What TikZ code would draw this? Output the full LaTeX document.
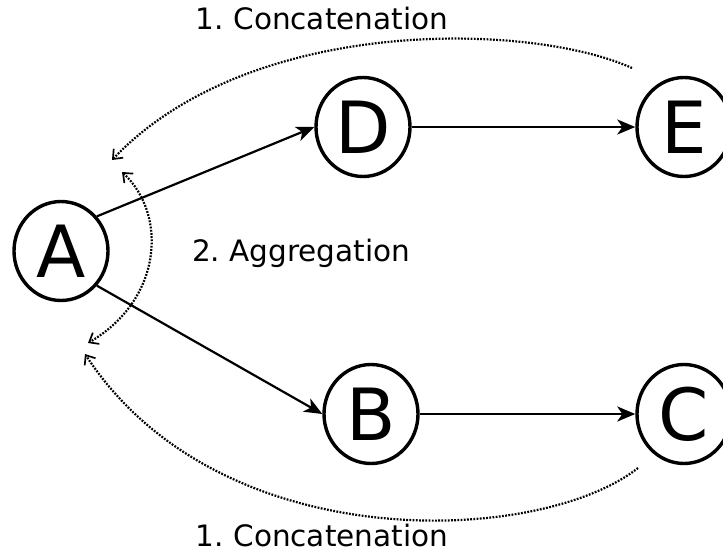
\documentclass[tikz,border=0pt]{standalone}
\usepackage{fontspec}
\setmainfont{DejaVu Sans}
\usetikzlibrary{shapes.geometric,arrows.meta}
\frenchspacing

\tikzset{
  state/.style={ellipse, draw, line width=3.4pt, fill=white,
    minimum width=94pt, minimum height=99pt, inner sep=0pt,
    font=\fontsize{72}{72}\selectfont},
  flow/.style={line width=2.2pt, -{Stealth[length=18pt,width=15pt,inset=5pt]}},
  barb/.tip={Straight Barb[length=8pt,width=13pt,line width=1.7pt]},
  back/.style={line width=2.2pt, dash pattern=on 1.8pt off 1.4pt, -barb},
  both/.style={back, barb-barb},
  caption/.style={font=\fontsize{29.5}{29.5}\selectfont, inner sep=0pt}
}

\begin{document}
\begin{tikzpicture}[x=1pt,y=-1pt]
  \useasboundingbox (0,0) rectangle (723,554);

  % nodes
  \node[state] (A) at (61,251) {A};
  \node[state] (D) at (363,127) {D};
  \node[state] (E) at (684,127) {E};
  \node[state] (B) at (371,414) {B};
  \node[state] (C) at (684,414) {C};

  % forward edges
  \draw[flow] (A.44) -- (D.west);
  \draw[flow] (A.-44) -- (B.west);
  \draw[flow] (D) -- (E);
  \draw[flow] (B) -- (C);

  % free ends of the feedback arcs
  \coordinate (topS) at (632,68);
  \coordinate (topT) at (112,160);
  \coordinate (botS) at (638,468);
  \coordinate (botT) at (85,354);
  \coordinate (aggS) at (122,172);
  \coordinate (aggT) at (88,343);

  % feedback arcs
  \draw[back] (topS) .. controls (530,22) and (250,15) .. (topT);
  \draw[back] (botS) .. controls (540,545) and (220,560) .. (botT);
  \draw[both] (aggS) .. controls (168,215) and (162,300) .. (aggT);

  % labels
  \node[caption, anchor=base] (l1) at (322,29) {1. Concatenation};
  \node[caption, anchor=base] (l2) at (322,546) {1. Concatenation};
  \node[caption, anchor=base west] (l3) at (192,261) {2. Aggregation};
\end{tikzpicture}
\end{document}
